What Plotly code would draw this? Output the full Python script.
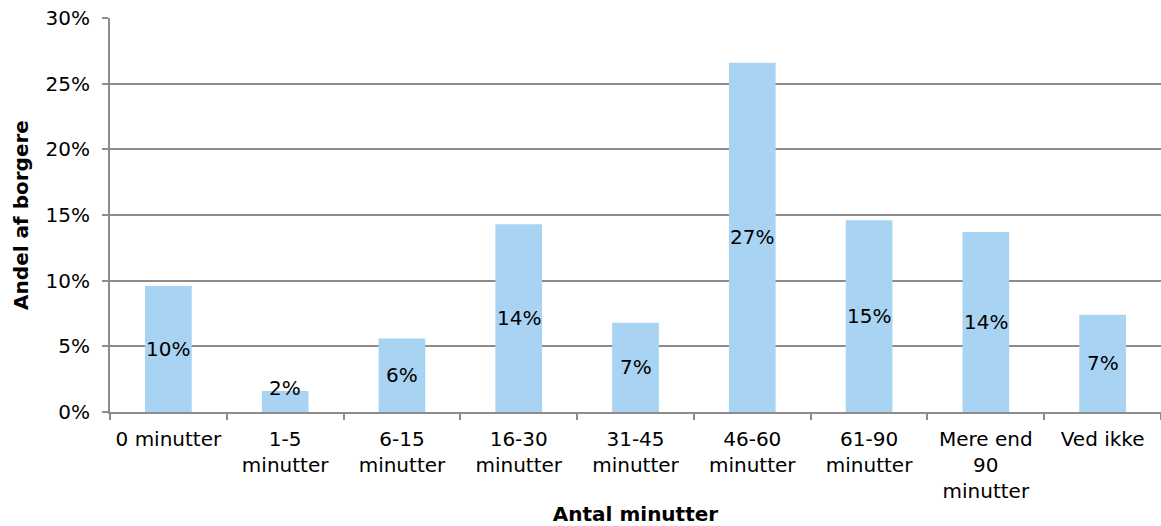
import plotly.graph_objects as go

categories = ["0 minutter", "1-5<br>minutter", "6-15<br>minutter", "16-30<br>minutter",
              "31-45<br>minutter", "46-60<br>minutter", "61-90<br>minutter",
              "Mere end<br>90<br>minutter", "Ved ikke"]
shares = [9.6, 1.6, 5.6, 14.3, 6.8, 26.6, 14.6, 13.7, 7.4]
y_ticks = [0, 5, 10, 15, 20, 25, 30]
y_tick_labels = [f"{v}%" for v in y_ticks]

FONT = "DejaVu Sans"
SIZE = 20
BAR_COLOR = "#A9D3F3"
GRID = "#8C8C8C"

fig = go.Figure()
fig.add_trace(go.Bar(
    x=categories, y=shares,
    marker=dict(color=BAR_COLOR, line=dict(width=0)),
    hoverinfo="skip",
))

# value labels centred in each bar (kept clear of the baseline for short bars)
for cat, v in zip(categories, shares):
    fig.add_annotation(
        x=cat, y=max(v / 2, 1.8), text=f"{round(v):d}%",
        showarrow=False, xanchor="center", yanchor="middle",
        font=dict(family=FONT, size=SIZE, color="#000000"),
    )

fig.update_layout(
    width=1161, height=526,
    margin=dict(l=110, r=0, t=18, b=114),
    paper_bgcolor="white", plot_bgcolor="white",
    bargap=0.6, showlegend=False,
    font=dict(family=FONT, size=SIZE, color="#000000"),
)
fig.update_xaxes(
    type="category", tickson="boundaries", ticks="outside", ticklen=6,
    tickcolor=GRID, tickwidth=2, ticklabelstandoff=8,
    showline=True, linecolor=GRID, linewidth=2, showgrid=False,
    tickfont=dict(family=FONT, size=SIZE),
    title=dict(text="<b>Antal minutter</b>", font=dict(family=FONT, size=SIZE), standoff=6),
)
fig.update_yaxes(
    range=[0, 30], tickvals=y_ticks, ticktext=y_tick_labels,
    ticks="outside", ticklen=6, tickcolor=GRID, tickwidth=2, ticklabelstandoff=8,
    showline=True, linecolor=GRID, linewidth=2,
    showgrid=True, gridcolor=GRID, gridwidth=2, zeroline=False,
    tickfont=dict(family=FONT, size=SIZE),
    title=dict(text="<b>Andel af borgere</b>", font=dict(family=FONT, size=SIZE), standoff=12),
)

fig.write_html("out.html")
